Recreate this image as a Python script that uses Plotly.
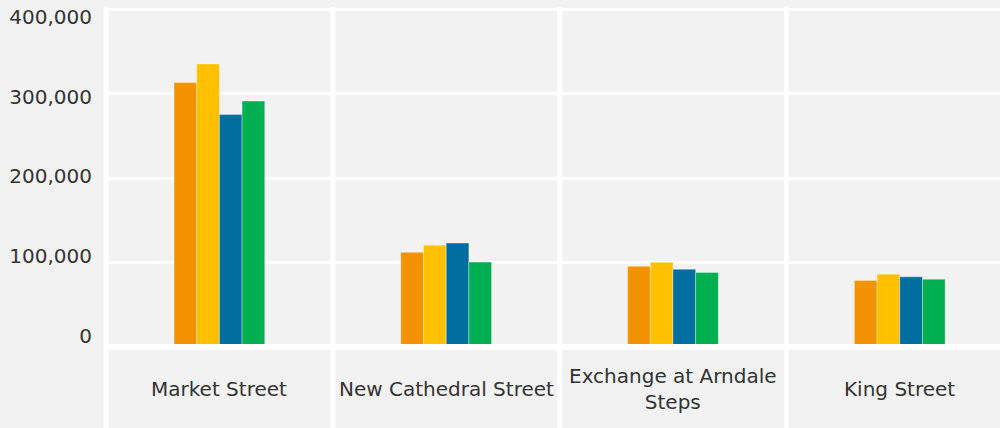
import plotly.graph_objects as go

categories = ["Market Street", "New Cathedral Street", "Exchange at Arndale Steps", "King Street"]
category_labels = ["Market Street", "New Cathedral Street", "Exchange at Arndale<br>Steps", "King Street"]
series_names = ["Series 1", "Series 2", "Series 3", "Series 4"]
series_1 = [313000, 112000, 95600, 78700]
series_2 = [335000, 120500, 100300, 86200]
series_3 = [275000, 123000, 92000, 83000]
series_4 = [291000, 100500, 88200, 80200]
colors = ["#F39200", "#FFC000", "#006E9E", "#00AF50"]
y_ticks = [0, 100000, 200000, 300000, 400000]
y_tick_labels = ["0", "100,000", "200,000", "300,000", "400,000"]

FONT = "DejaVu Sans"
TEXT = "#333333"
BG = "#f2f2f2"

fig = go.Figure()
for name, vals, col in zip(series_names, [series_1, series_2, series_3, series_4], colors):
    fig.add_trace(go.Bar(
        x=categories, y=vals, name=name,
        marker=dict(color=col, line=dict(color="rgba(255,255,255,0.35)", width=1)),
        showlegend=False,
    ))

# invisible helper trace so the label axis (y2) is drawn
fig.add_trace(go.Scatter(
    x=[categories[0]] * len(y_ticks), y=y_ticks, yaxis="y2", mode="markers",
    marker=dict(opacity=0), hoverinfo="skip", showlegend=False,
))

shapes = [dict(type="line", xref="paper", yref="paper", x0=0, x1=0, y0=0.98, y1=-0.3,
               line=dict(color="white", width=5))]
for b in [0.5, 1.5, 2.5]:
    shapes.append(dict(type="line", xref="x", yref="paper", x0=b, x1=b, y0=0.98, y1=-0.3,
                       line=dict(color="white", width=5)))

annotations = []
for cat, lab in zip(categories, category_labels):
    annotations.append(dict(x=cat, xref="x", y=-0.121, yref="paper", yanchor="middle",
                            xanchor="center", text=lab, showarrow=False,
                            font=dict(family=FONT, size=20, color=TEXT)))

fig.update_layout(
    width=1000, height=428,
    margin=dict(l=106, r=0, t=0, b=81, pad=0),
    paper_bgcolor=BG, plot_bgcolor=BG,
    barmode="group", bargap=0.6, bargroupgap=0,
    xaxis=dict(type="category", range=[-0.5, 3.442], showticklabels=False,
               showgrid=False, zeroline=False, showline=False, ticks=""),
    yaxis=dict(range=[0, 410650], tickvals=y_ticks, showticklabels=False,
               showgrid=True, gridcolor="white", gridwidth=3,
               zeroline=True, zerolinecolor="white", zerolinewidth=6,
               zerolinelayer="above traces", showline=False, ticks=""),
    yaxis2=dict(overlaying="y", side="left", range=[-14322, 421608],
                tickvals=y_ticks, ticktext=y_tick_labels, showgrid=False, zeroline=False,
                showline=False, ticks="outside", ticklen=9, tickcolor="rgba(0,0,0,0)",
                tickfont=dict(family=FONT, size=20, color=TEXT)),
    shapes=shapes,
    annotations=annotations,
    font=dict(family=FONT, color=TEXT),
)

fig.write_html("out.html", config={"displayModeBar": False},
               post_script="document.body.style.margin='0';")
